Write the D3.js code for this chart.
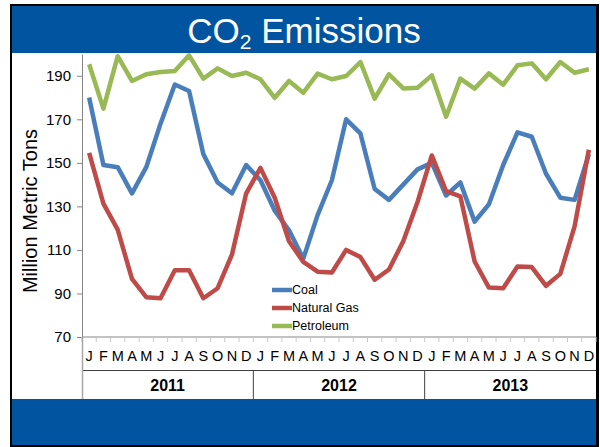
<!DOCTYPE html>
<html>
<head>
<meta charset="utf-8">
<script src="https://cdn.jsdelivr.net/npm/d3@7"></script>
<style>
  body { margin: 0; background: #fff; }
  svg text { font-family: "Liberation Sans", Arial, sans-serif; }
</style>
</head>
<body>
<div id="chart"></div>
<script>
const months = ["J","F","M","A","M","J","J","A","S","O","N","D"];
const years = ["2011", "2012", "2013"];

const coal = [180,149,148,136,148,168,186,183,154,141,136,149,
              142,128,119,106,126,142,170,163.5,138,133,140,147,
              150,135,141,123,131,149,164,162,145,134,133,154];
const naturalGas = [154.6,131.3,119.3,96.7,88.3,87.8,100.7,100.7,87.8,92.4,107.8,136,
                    147.7,134,114,104.5,100,99.6,110,106.7,96.3,101,114,132,
                    153.4,137,134.6,104.7,92.7,92.4,102.4,102.1,93.5,99,120.8,156];
const petroleum = [195.3,174.9,199,187.6,190.7,191.7,192.2,199.4,188.7,193.4,189.9,191.4,
                   188.4,179.9,187.6,182.2,191,188.4,189.9,196.3,179.5,190.7,184.2,184.5,
                   190.2,171.2,188.7,184.1,191.1,185.9,194.8,195.7,188.4,196.3,191.4,193];
const yTicks = [70, 90, 110, 130, 150, 170, 190];

const series = [
  { name: "Coal", values: coal, color: "#4a7ebb" },
  { name: "Natural Gas", values: naturalGas, color: "#be4b48" },
  { name: "Petroleum", values: petroleum, color: "#98b954" }
];

const W = 600, H = 447;
const blue = "#0054a0";
const svg = d3.select("#chart").append("svg").attr("width", W).attr("height", H);

// slide frame
svg.append("rect").attr("x", 10).attr("y", 4).attr("width", 589).attr("height", 443).attr("fill", "#000");
svg.append("rect").attr("x", 12).attr("y", 6).attr("width", 584).attr("height", 439).attr("fill", blue);
svg.append("rect").attr("x", 12).attr("y", 53).attr("width", 584).attr("height", 346).attr("fill", "#fff");

// title
const title = svg.append("text").attr("x", 304).attr("y", 43)
  .attr("text-anchor", "middle").attr("fill", "#fff").attr("font-size", 35);
title.append("tspan").text("CO");
title.append("tspan").attr("font-size", 21).attr("dy", 6).text("2");
title.append("tspan").attr("dy", -6).text(" Emissions");

const idx = d3.range(coal.length);
const x = d3.scaleBand().domain(idx).range([82, 596]);
const y = d3.scaleLinear().domain([70, 200]).range([337, 54]);
const cx = i => x(i) + x.bandwidth() / 2;

// y axis
const yAxis = svg.append("g").attr("transform", "translate(82,0)")
  .call(d3.axisLeft(y).tickValues(yTicks).tickSize(5).tickPadding(6).tickSizeOuter(0));
yAxis.select(".domain").attr("stroke", "#868686");
yAxis.selectAll(".tick line").attr("stroke", "#868686");
yAxis.selectAll(".tick text").attr("font-size", 15).attr("fill", "#000")
  .attr("font-family", "Liberation Sans, Arial, sans-serif");

// x axis line + boundary ticks
svg.append("line").attr("x1", 82).attr("x2", 596).attr("y1", 337).attr("y2", 337).attr("stroke", "#868686");
svg.append("g").selectAll("line").data(d3.range(coal.length + 1)).join("line")
  .attr("x1", i => 82 + i * x.step()).attr("x2", i => 82 + i * x.step())
  .attr("y1", 337).attr("y2", 342).attr("stroke", "#c8c8c8");

// month labels
const xAxis = svg.append("g").attr("transform", "translate(0,337)")
  .call(d3.axisBottom(x).tickSize(0).tickPadding(14).tickFormat(i => months[i % 12]));
xAxis.select(".domain").remove();
xAxis.selectAll(".tick text").attr("font-size", 14.5).attr("fill", "#000")
  .attr("font-family", "Liberation Sans, Arial, sans-serif");

// year boxes
const yearW = x.step() * 12;
svg.append("line").attr("x1", 82).attr("x2", 596).attr("y1", 370.5).attr("y2", 370.5).attr("stroke", "#404040");
svg.append("line").attr("x1", 82.5).attr("x2", 82.5).attr("y1", 337).attr("y2", 399).attr("stroke", "#a6a6a6").attr("stroke-width", 1.5);
svg.append("g").selectAll("line").data([1, 2]).join("line")
  .attr("x1", i => 82 + i * yearW).attr("x2", i => 82 + i * yearW)
  .attr("y1", 370).attr("y2", 399).attr("stroke", "#404040");
svg.append("g").selectAll("text").data(years).join("text")
  .attr("x", (d, i) => 82 + (i + 0.5) * yearW).attr("y", 391)
  .attr("text-anchor", "middle").attr("font-size", 16).attr("font-weight", "bold")
  .text(d => d);

// y label
svg.append("text").attr("transform", "translate(37,211) rotate(-90)")
  .attr("text-anchor", "middle").attr("font-size", 20).text("Million Metric Tons");

// lines
const line = d3.line().x((d, i) => cx(i)).y(d => y(d));
svg.append("g").selectAll("path").data(series).join("path")
  .attr("d", s => line(s.values)).attr("fill", "none")
  .attr("stroke", s => s.color).attr("stroke-width", 4.5).attr("stroke-linejoin", "round");

// legend
const lg = svg.append("g").selectAll("g").data(series).join("g")
  .attr("transform", (d, i) => `translate(272,${290 + i * 18})`);
lg.append("line").attr("x1", 0).attr("x2", 20).attr("stroke", d => d.color).attr("stroke-width", 4.5);
lg.append("text").attr("x", 20).attr("dy", "0.35em").attr("font-size", 12.5).text(d => d.name);
</script>
</body>
</html>
